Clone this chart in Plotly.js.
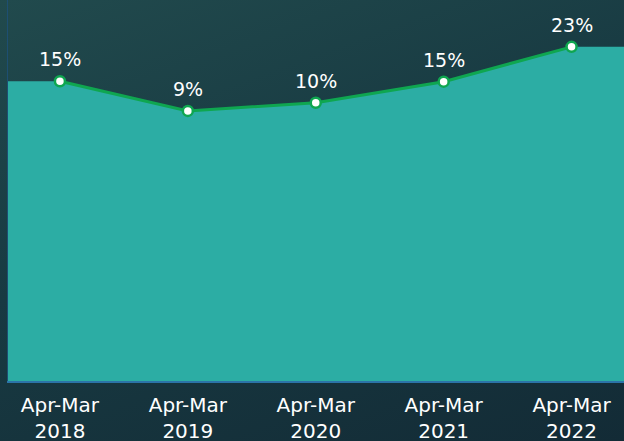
<!DOCTYPE html>
<html>
<head>
<meta charset="utf-8">
<script src="https://cdn.plot.ly/plotly-3.0.1.min.js"></script>
<style>
  html, body { margin: 0; padding: 0; width: 624px; height: 441px; overflow: hidden; }
  body { background: linear-gradient(160deg, #214a4d 0%, #183a42 45%, #132b36 100%); }
  #chart { width: 624px; height: 441px; }
</style>
</head>
<body>
<div id="chart"></div>
<script>
// Data
var categories = ["Apr-Mar<br>2018", "Apr-Mar<br>2019", "Apr-Mar<br>2020", "Apr-Mar<br>2021", "Apr-Mar<br>2022"];
var growth = [15.4, 8.5, 10.4, 15.3, 23.4];          // plotted values (%)
var growthLabels = ["15%", "9%", "10%", "15%", "23%"]; // data labels as shown

var AXIS_MIN = -54.3, AXIS_MAX = 34.3;

var idx = categories.map(function (c, i) { return i; });
var n = growth.length;

// Area extends flat to the plot edges (first/last value repeated beyond the ends)
var areaX = [-1].concat(idx, [n]);
var areaY = [growth[0]].concat(growth, [growth[n - 1]]);
var baseY = areaY.map(function () { return AXIS_MIN; });

var traces = [
  { x: areaX, y: baseY, type: "scatter", mode: "lines", line: { width: 0 }, hoverinfo: "skip", showlegend: false },
  { x: areaX, y: areaY, type: "scatter", mode: "lines", fill: "tonexty", fillcolor: "#2cada4",
    line: { width: 0 }, hoverinfo: "skip", showlegend: false },
  { x: idx, y: growth, type: "scatter", mode: "lines+markers",
    line: { color: "#0fa650", width: 3 },
    marker: { size: 10, color: "#ffffff", line: { color: "#0fa650", width: 2.5 } },
    showlegend: false }
];

var annotations = idx.map(function (i) {
  return { x: i, y: growth[i], xref: "x", yref: "y", text: growthLabels[i], showarrow: false,
           yanchor: "bottom", xanchor: "center", yshift: 9,
           font: { family: "DejaVu Sans, sans-serif", size: 19, color: "#ffffff" } };
});

var layout = {
  width: 624, height: 441,
  margin: { l: 8, r: 0, t: 0, b: 60 },
  paper_bgcolor: "rgba(0,0,0,0)",
  plot_bgcolor: "rgba(0,0,0,0)",
  xaxis: {
    range: [-0.406, 4.41],
    tickmode: "array", tickvals: idx, ticktext: categories,
    showgrid: false, zeroline: false,
    showline: true, linecolor: "#2b74a8", linewidth: 1.5,
    ticks: "", ticklabelstandoff: 5,
    tickfont: { family: "DejaVu Sans, sans-serif", size: 20, color: "#ffffff" },
    fixedrange: true
  },
  yaxis: {
    range: [AXIS_MIN, AXIS_MAX],
    showgrid: false, zeroline: false, showticklabels: false,
    showline: true, linecolor: "#1d4f72", linewidth: 1,
    fixedrange: true
  },
  annotations: annotations,
  showlegend: false
};

Plotly.newPlot("chart", traces, layout, { displayModeBar: false, staticPlot: true });
</script>
</body>
</html>
